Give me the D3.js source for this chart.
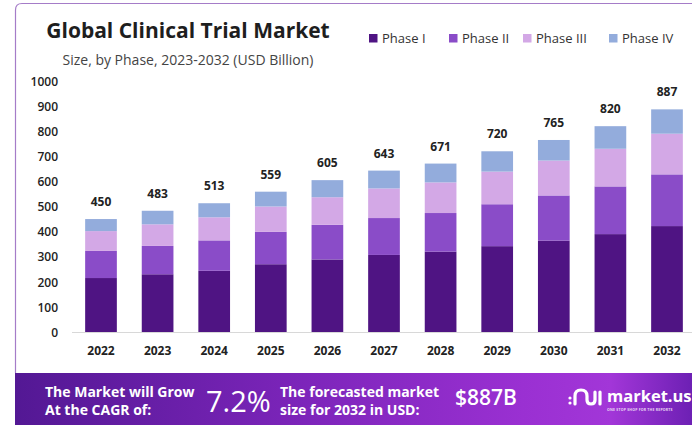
<!DOCTYPE html>
<html>
<head>
<meta charset="utf-8">
<script src="https://cdn.jsdelivr.net/npm/d3@7"></script>
<style>
html,body{margin:0;padding:0;background:#fff;}
svg{display:block;}
</style>
</head>
<body>
<svg id="chart" width="692" height="425"></svg>
<script>
const years = ["2022","2023","2024","2025","2026","2027","2028","2029","2030","2031","2032"];
const phaseNames = ["Phase I","Phase II","Phase III","Phase IV"];
const phase1 = [215,230,244,270,289,307,320,342,364,390,422];
const phase2 = [108,113,121,129,138,147,154,167,180,190,206];
const phase3 = [79,86,92,101,110,118,122,130,139,150,162];
const phase4 = [48,54,56,59,68,71,75,81,82,90,97];
const totals = [450,483,513,559,605,643,671,720,765,820,887];
const yTicks = [0,100,200,300,400,500,600,700,800,900,1000];
const colors = ["#4f1483","#8a4cc8","#d3a8e6","#93acdc"];

const svg = d3.select("#chart");
const font = "'Open Sans', 'DejaVu Sans', sans-serif";

// frame
svg.append("path")
  .attr("d","M15.5,373 L15.5,10 Q15.5,3.5 22,3.5 L692,3.5")
  .attr("fill","none").attr("stroke","#a57cc8").attr("stroke-width",1.2);

// title
svg.append("text").attr("x",188).attr("y",38).attr("text-anchor","middle")
  .attr("font-family",font).attr("font-weight",700).attr("font-size",21)
  .attr("fill","#1e1e1e").text("Global Clinical Trial Market");
svg.append("text").attr("x",188).attr("y",65).attr("text-anchor","middle")
  .attr("font-family",font).attr("font-size",14)
  .attr("fill","#444").text("Size, by Phase, 2023-2032 (USD Billion)");

// legend
const legendX = [369,449,523,609];
phaseNames.forEach((n,i)=>{
  const g = svg.append("g").attr("transform",`translate(${legendX[i]},33)`);
  g.append("rect").attr("width",8.5).attr("height",8.5).attr("y",1).attr("fill",colors[i]);
  g.append("text").attr("x",13).attr("y",9.5).attr("font-family",font).attr("font-size",13)
    .attr("fill","#333").text(n);
});

// scales
const x = d3.scaleBand().domain(years).range([72.7,695.3]).paddingInner(0.44).paddingOuter(0.22);
const y = d3.scaleLinear().domain([0,1000]).range([332,81]);

// y axis labels
const yAxis = d3.axisLeft(y).tickValues(yTicks).tickFormat(d3.format("d")).tickSize(0).tickPadding(0);
const ya = svg.append("g").attr("transform","translate(58,0)").call(yAxis);
ya.select(".domain").remove();
ya.selectAll("text").attr("font-family",font).attr("font-weight",600).attr("font-size",12)
  .attr("fill","#222").attr("dy","0.35em");

// baseline
svg.append("line").attr("x1",72).attr("x2",692).attr("y1",332.5).attr("y2",332.5)
  .attr("stroke","#d8d8d8").attr("stroke-width",1);

// stacked data
const rows = years.map((yr,i)=>({year:yr,"Phase I":phase1[i],"Phase II":phase2[i],"Phase III":phase3[i],"Phase IV":phase4[i]}));
const stack = d3.stack().keys(phaseNames)(rows);

svg.append("g").selectAll("g").data(stack).join("g")
  .attr("fill",(d,i)=>colors[i])
  .selectAll("rect").data(d=>d).join("rect")
  .attr("x",d=>x(d.data.year))
  .attr("width",x.bandwidth())
  .attr("y",d=>y(d[1]))
  .attr("height",d=>y(d[0])-y(d[1]));

// total labels
svg.append("g").selectAll("text").data(years).join("text")
  .attr("x",d=>x(d)+x.bandwidth()/2)
  .attr("y",(d,i)=>y(totals[i])-13)
  .attr("text-anchor","middle").attr("font-family",font).attr("font-weight",700)
  .attr("font-size",12).attr("fill","#222")
  .text((d,i)=>totals[i]);

// x axis labels
const xAxis = d3.axisBottom(x).tickSize(0).tickPadding(0);
const xa = svg.append("g").attr("transform","translate(0,346)").call(xAxis);
xa.select(".domain").remove();
xa.selectAll("text").attr("font-family",font).attr("font-weight",700).attr("font-size",12)
  .attr("fill","#222").attr("dy","0.71em");

// bottom banner
const defs = svg.append("defs");
const grad = defs.append("linearGradient").attr("id","bg").attr("x1","0").attr("x2","1").attr("y1","0").attr("y2","0");
[["0%","#531894"],["40%","#7a24b8"],["75%","#9a30d2"],["88%","#a236d8"],["100%","#6d20b4"]].forEach(s=>{
  grad.append("stop").attr("offset",s[0]).attr("stop-color",s[1]);
});
svg.append("rect").attr("x",15).attr("y",373).attr("width",677).attr("height",52).attr("fill","url(#bg)");

const bf = "'Open Sans','DejaVu Sans',sans-serif";
const wt = (t,xx,yy,size,weight)=>svg.append("text").attr("x",xx).attr("y",yy)
  .attr("font-family",bf).attr("font-size",size).attr("font-weight",weight)
  .attr("fill","#fff").text(t);
wt("The Market will Grow",45,397,14,700);
wt("At the CAGR of:",45,415,14,700);
wt("7.2%",206,412,29,500);
wt("The forecasted market",280,397,14,700);
wt("size for 2032 in USD:",280,415,14,700);
wt("$887B",455,405,21,600);

// logo
const lg = svg.append("g").attr("transform","translate(572,388)");
lg.append("path").attr("d","M3,16 L3,8 Q3,2 9,2 Q15,2 15,8 L15,12 Q15,16 19,16 Q23,16 23,12 L23,4")
  .attr("fill","none").attr("stroke","#fff").attr("stroke-width",3.2).attr("stroke-linecap","round");
lg.append("line").attr("x1",28).attr("x2",28).attr("y1",4).attr("y2",16).attr("stroke","#fff").attr("stroke-width",3.2).attr("stroke-linecap","round");
lg.append("circle").attr("cx",-2).attr("cy",10).attr("r",1.6).attr("fill","#fff");
lg.append("circle").attr("cx",-2).attr("cy",15).attr("r",1.6).attr("fill","#fff");
wt("market.us",607,402,16.5,700);
svg.append("text").attr("x",607).attr("y",411).attr("font-family",bf).attr("font-size",3.5)
  .attr("font-weight",700).attr("fill","#e8d8f4").attr("letter-spacing",0.2)
  .text("ONE STOP SHOP FOR THE REPORTS");
</script>
</body>
</html>
